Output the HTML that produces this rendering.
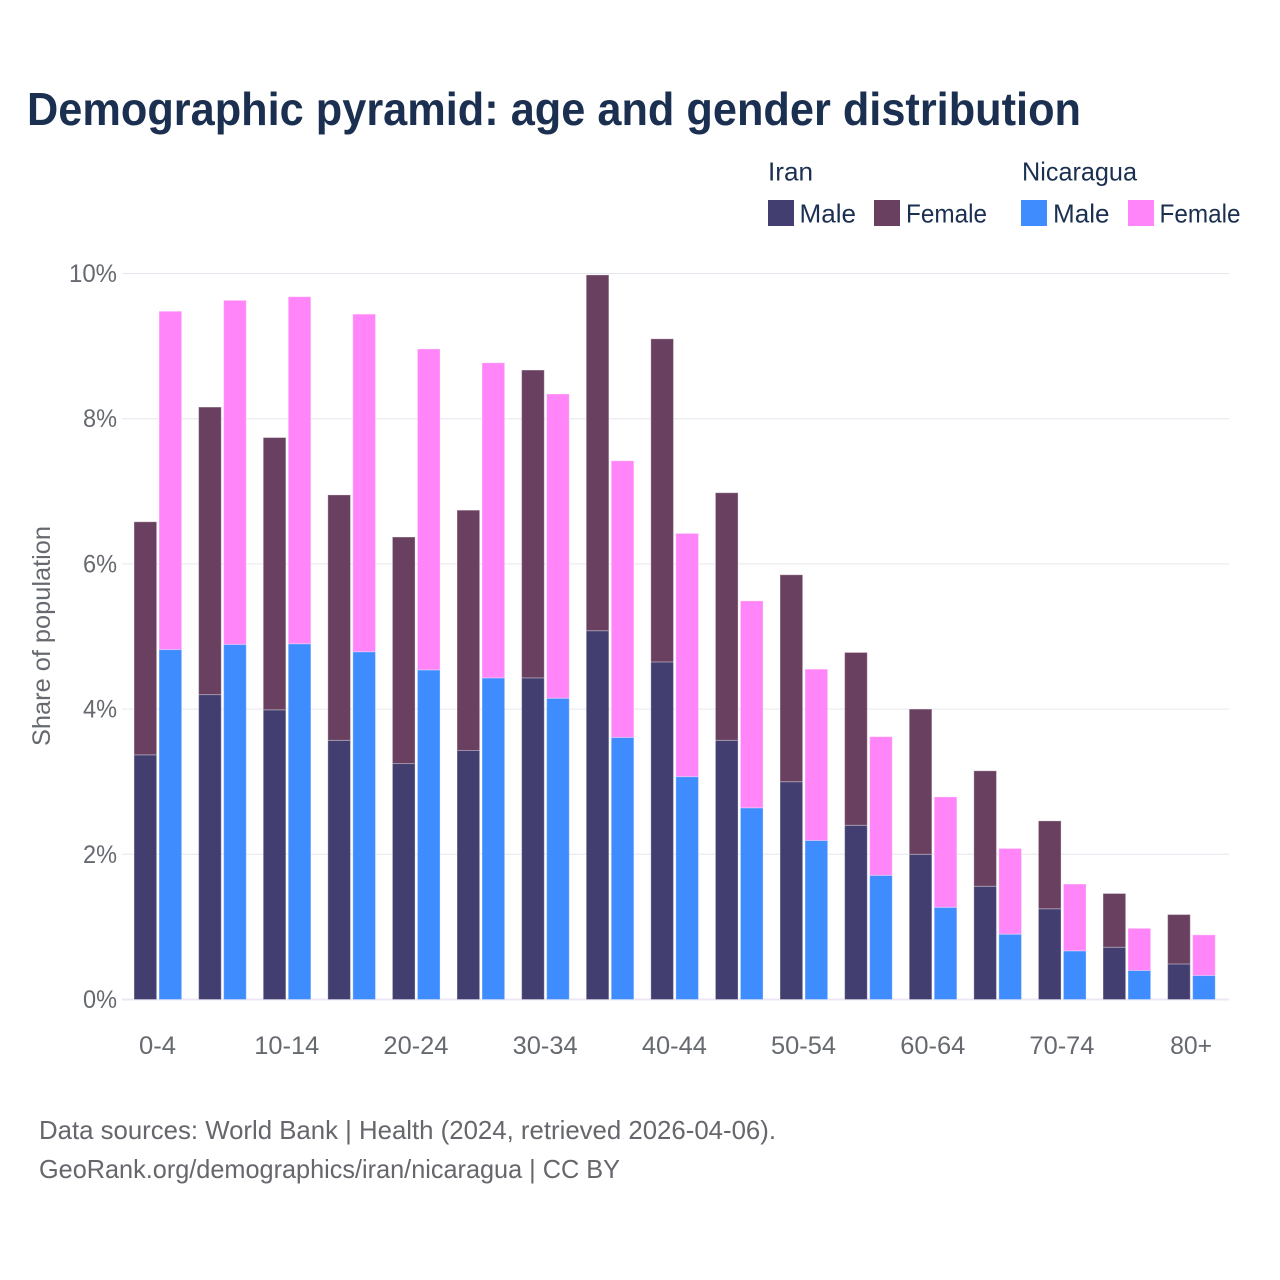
<!DOCTYPE html>
<html lang="en">
<head>
<meta charset="utf-8">
<title>Demographic pyramid: age and gender distribution</title>
<style>
html,body{margin:0;padding:0;background:#fff;}
#chart{display:block;width:1280px;height:1280px;font-family:"Liberation Sans",sans-serif;}
</style>
</head>
<body>
<svg id="chart" xmlns="http://www.w3.org/2000/svg" width="1280" height="1280" viewBox="0 0 1280 1280">
  <rect x="0" y="0" width="1280" height="1280" fill="#ffffff"/>
  <text x="27" y="125" font-size="46" font-weight="700" fill="#1b3050" textLength="1054" lengthAdjust="spacingAndGlyphs">Demographic pyramid: age and gender distribution</text>

  <g font-size="26" fill="#1b3050">
    <text x="768" y="180.5" textLength="45" lengthAdjust="spacingAndGlyphs">Iran</text>
    <text x="1022" y="180.5" textLength="115" lengthAdjust="spacingAndGlyphs">Nicaragua</text>
    <rect x="768" y="200" width="26" height="26" fill="#423f70"/>
    <text x="799.5" y="222.5" textLength="56.5" lengthAdjust="spacingAndGlyphs">Male</text>
    <rect x="874" y="200" width="26" height="26" fill="#694060"/>
    <text x="906" y="222.5" textLength="81" lengthAdjust="spacingAndGlyphs">Female</text>
    <rect x="1021" y="200" width="26" height="26" fill="#3f8cff"/>
    <text x="1053" y="222.5" textLength="56.5" lengthAdjust="spacingAndGlyphs">Male</text>
    <rect x="1128" y="200" width="26" height="26" fill="#ff85f9"/>
    <text x="1159.5" y="222.5" textLength="81" lengthAdjust="spacingAndGlyphs">Female</text>
  </g>

  <g id="grid"></g>
  <g id="bars"></g>
  <g id="yticks"></g>
  <g id="xticks"></g>

  <text transform="translate(50,746) rotate(-90)" x="0" y="0" font-size="25" fill="#666a70" textLength="220" lengthAdjust="spacingAndGlyphs">Share of population</text>

  <text x="39" y="1139" font-size="26" fill="#66666c" textLength="737" lengthAdjust="spacingAndGlyphs">Data sources: World Bank | Health (2024, retrieved 2026-04-06).</text>
  <text x="39" y="1178" font-size="26" fill="#66666c" textLength="581" lengthAdjust="spacingAndGlyphs">GeoRank.org/demographics/iran/nicaragua | CC BY</text>
</svg>
<script>
const ageGroups = ["0-4","5-9","10-14","15-19","20-24","25-29","30-34","35-39","40-44","45-49","50-54","55-59","60-64","65-69","70-74","75-79","80+"];
const xTickLabels = ["0-4","10-14","20-24","30-34","40-44","50-54","60-64","70-74","80+"];
const yTickValues = [0,2,4,6,8,10];
const iranMale = [3.37,4.20,3.99,3.57,3.25,3.43,4.43,5.08,4.65,3.57,3.00,2.40,2.00,1.56,1.25,0.72,0.49];
const iranFemale = [3.21,3.96,3.75,3.38,3.12,3.31,4.24,4.90,4.45,3.41,2.85,2.38,2.00,1.59,1.21,0.74,0.68];
const nicaraguaMale = [4.82,4.89,4.90,4.79,4.54,4.43,4.15,3.61,3.07,2.64,2.19,1.71,1.27,0.90,0.67,0.40,0.33];
const nicaraguaFemale = [4.66,4.74,4.78,4.65,4.42,4.34,4.19,3.81,3.35,2.85,2.36,1.91,1.52,1.18,0.92,0.58,0.56];

const NS = "http://www.w3.org/2000/svg";
const plotLeft = 122, plotRight = 1229, baseY = 999.5, pxPerUnit = 72.6;
const firstCenter = 157.85, step = 64.6, barW = 22.6, barGap = 2.4;

function yScale(v) { return baseY - v * pxPerUnit; }
function xCenter(i) { return firstCenter + i * step; }
function labelWidth(s) {
  let w = 0;
  for (const c of s) { w += c === "-" ? 9 : c === "%" ? 20 : 14; }
  return w;
}
function addText(parent, x, y, str, anchor) {
  const t = document.createElementNS(NS, "text");
  t.setAttribute("x", x);
  t.setAttribute("y", y);
  t.setAttribute("font-size", 25);
  t.setAttribute("fill", "#666a70");
  t.setAttribute("text-anchor", anchor);
  t.setAttribute("textLength", labelWidth(str));
  t.setAttribute("lengthAdjust", "spacingAndGlyphs");
  t.textContent = str;
  parent.appendChild(t);
  return t;
}
function addBar(parent, x, v0, v1, fill) {
  const r = document.createElementNS(NS, "rect");
  r.setAttribute("x", x);
  r.setAttribute("y", yScale(v1));
  r.setAttribute("width", barW);
  r.setAttribute("height", Math.max(0, yScale(v0) - yScale(v1)));
  r.setAttribute("fill", fill);
  r.setAttribute("stroke", "rgba(255,255,255,0.3)");
  r.setAttribute("stroke-width", 1);
  parent.appendChild(r);
  return r;
}

const gridG = document.getElementById("grid");
const barsG = document.getElementById("bars");
const yG = document.getElementById("yticks");
const xG = document.getElementById("xticks");

yTickValues.forEach(function (v) {
  const l = document.createElementNS(NS, "line");
  l.setAttribute("x1", plotLeft);
  l.setAttribute("x2", plotRight);
  l.setAttribute("y1", yScale(v));
  l.setAttribute("y2", yScale(v));
  l.setAttribute("stroke", v === 0 ? "#eee6f6" : "#e6e6ef");
  l.setAttribute("stroke-width", v === 0 ? 2 : 1);
  
  
  gridG.appendChild(l);

  const t = addText(yG, 117, yScale(v) + 8.5, v + "%", "end");
  
  
});

ageGroups.forEach(function (age, i) {
  const cx = xCenter(i);
  const xA = cx - barW - barGap / 2;
  const xB = cx + barGap / 2;

  const a = addBar(barsG, xA, 0, iranMale[i], "#423f70");
  
  

  const b = addBar(barsG, xA, iranMale[i], iranMale[i] + iranFemale[i], "#694060");
  
  

  const c = addBar(barsG, xB, 0, nicaraguaMale[i], "#3f8cff");
  
  

  const d = addBar(barsG, xB, nicaraguaMale[i], nicaraguaMale[i] + nicaraguaFemale[i], "#ff85f9");
  
  

  if (xTickLabels.indexOf(age) !== -1) {
    const t = addText(xG, cx - 0.3, 1054, age, "middle");
    
    
  }
});
</script>
</body>
</html>
